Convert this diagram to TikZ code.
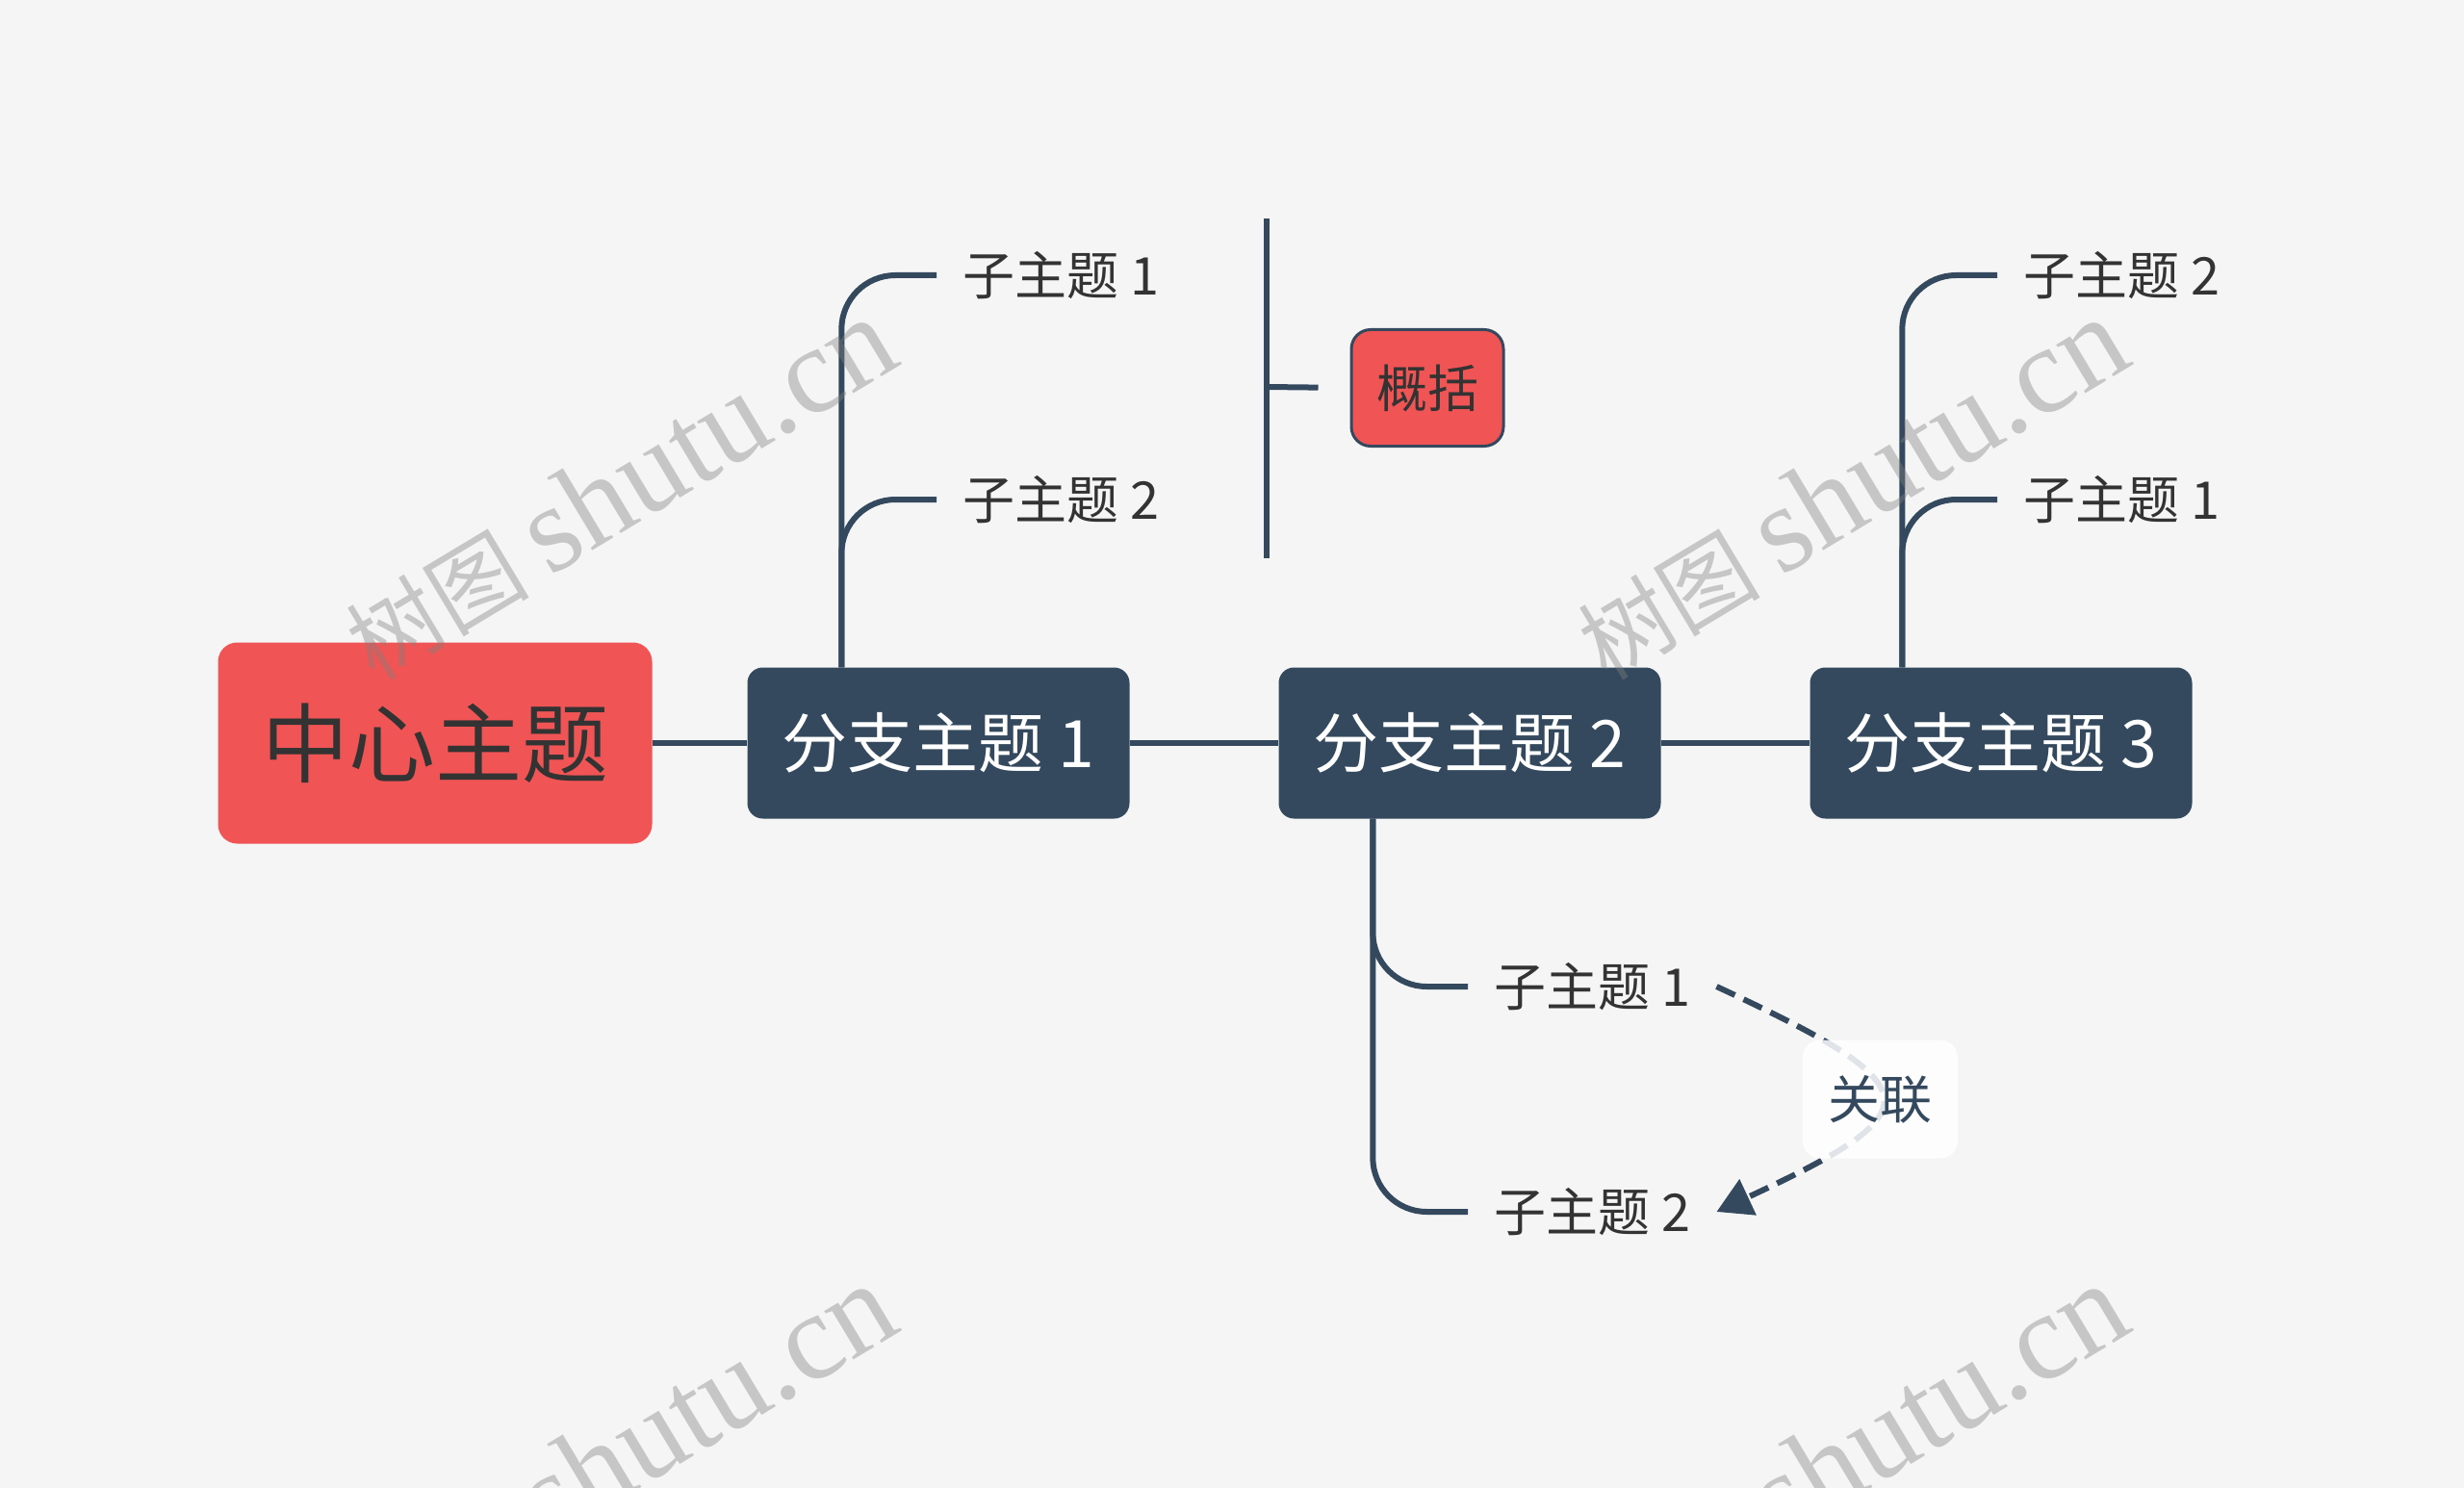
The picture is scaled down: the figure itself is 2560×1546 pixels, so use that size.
\documentclass[tikz,border=0pt]{standalone}
\usepackage{fontspec}
\setmainfont{Noto Sans CJK SC}
\newfontfamily\wmfont{Liberation Serif}
\usetikzlibrary{arrows.meta}
\definecolor{bgc}{HTML}{F5F5F5}
\definecolor{navy}{HTML}{34495E}
\definecolor{redc}{HTML}{F05454}
\definecolor{txt}{HTML}{333333}
\begin{document}
\begin{tikzpicture}[x=1pt,y=-1pt,
  conn/.style={draw=navy,line width=6pt},
  centerbox/.style={fill=redc,rounded corners=20pt,minimum width=451pt,minimum height=209pt,inner sep=0pt,text=txt,font=\fontsize{90}{90}\selectfont},
  branchbox/.style={fill=navy,rounded corners=16pt,minimum width=397pt,minimum height=157pt,inner sep=0pt,text=white,font=\fontsize{68}{68}\selectfont},
  childtext/.style={anchor=west,inner xsep=27pt,inner ysep=4pt,text=txt,font=\fontsize{54}{54}\selectfont},
  sumbox/.style={fill=redc,draw=navy,line width=3pt,rounded corners=20pt,minimum width=158pt,minimum height=121pt,inner sep=0pt,text=txt,font=\fontsize{53}{53}\selectfont},
  rellabel/.style={fill=white,fill opacity=0.85,text opacity=1,rounded corners=18pt,minimum width=161pt,minimum height=123pt,inner sep=0pt,text=navy,font=\fontsize{54}{54}\selectfont},
  wm/.style={text=gray,text opacity=0.4,font=\fontsize{95}{95}\selectfont,inner sep=0pt}
]
\fill[bgc] (0,0) rectangle (2560,1546);
\useasboundingbox (0,0) rectangle (2560,1546);

% main nodes
\node[centerbox] (c) at (452,772) {中心主题};
\node[branchbox] (b1) at (975,772) {分支主题 1};
\node[branchbox] (b2) at (1527,772) {分支主题 2};
\node[branchbox] (b3) at (2079,772) {分支主题 3};

% children
\node[childtext] (c11) at (973,286) {子主题 1};
\node[childtext] (c12) at (973,519) {子主题 2};
\node[childtext] (c31) at (2075,286) {子主题 2};
\node[childtext] (c32) at (2075,519) {子主题 1};
\node[childtext] (c21) at (1525,1025) {子主题 1};
\node[childtext] (c22) at (1525,1259) {子主题 2};

% main connectors
\draw[conn] (c.east) -- (b1.west);
\draw[conn] (b1.east) -- (b2.west);
\draw[conn] (b2.east) -- (b3.west);

% child connectors
\draw[conn,rounded corners=56pt] ([xshift=98pt]b1.north west) |- (c11.west);
\draw[conn,rounded corners=56pt] ([xshift=98pt]b1.north west) |- (c12.west);
\draw[conn,rounded corners=56pt] ([xshift=96pt]b3.north west) |- (c31.west);
\draw[conn,rounded corners=56pt] ([xshift=96pt]b3.north west) |- (c32.west);
\draw[conn,rounded corners=56pt] ([xshift=98pt]b2.south west) |- (c21.west);
\draw[conn,rounded corners=56pt] ([xshift=98pt]b2.south west) |- (c22.west);

% summary
\coordinate (st) at (1316,227);
\coordinate (sb) at (1316,580);
\coordinate (sm) at (1316,402);
\draw[conn] (st) -- (sb);
\node[sumbox] (sum) at (1483,403) {概括};
\draw[conn,shorten >=33pt] (sm) -- (sum.west);

% relationship
\draw[conn,dash pattern=on 21pt off 10pt,-{Triangle[length=36pt,width=40pt]}]
  (c21.east) .. controls +(25:250) and +(-25:250) .. node[rellabel] (rl) {关联} (c22.east);

% watermarks
\node[wm,rotate=31] (w1) at (644,508) {树图 {\wmfont\fontsize{128}{128}\selectfont shutu.cn}};
\node[wm,rotate=31] (w2) at (1923,508) {树图 {\wmfont\fontsize{128}{128}\selectfont shutu.cn}};
\node[wm,rotate=31] (w3) at (644,1512) {树图 {\wmfont\fontsize{128}{128}\selectfont shutu.cn}};
\node[wm,rotate=31] (w4) at (1923,1512) {树图 {\wmfont\fontsize{128}{128}\selectfont shutu.cn}};
\end{tikzpicture}
\end{document}
